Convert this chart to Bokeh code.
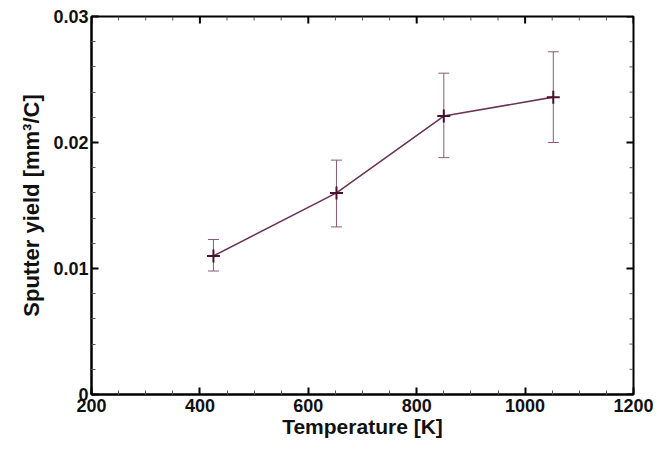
import math
from bokeh.plotting import figure
from bokeh.models import ColumnDataSource, Whisker, TeeHead, FixedTicker, Range1d
from bokeh.embed import file_html
from bokeh.resources import INLINE

temperature = [425, 652, 850, 1052]
sputter_yield = [0.0110, 0.0160, 0.0221, 0.0236]
yield_upper = [0.0123, 0.0186, 0.0255, 0.0272]
yield_lower = [0.0098, 0.0133, 0.0188, 0.0200]

x_major = [200, 400, 600, 800, 1000, 1200]
x_minor = [v for v in range(200, 1201, 50) if v not in x_major]
y_major = [0.0, 0.01, 0.02, 0.03]
y_minor = [0.002, 0.004, 0.006, 0.008, 0.012, 0.014, 0.016, 0.018,
           0.022, 0.024, 0.026, 0.028]

X0, X1 = 200, 1200
Y0, Y1 = 0.0, 0.03

src = ColumnDataSource(dict(x=temperature, y=sputter_yield,
                            up=yield_upper, lo=yield_lower))

p = figure(frame_width=542, frame_height=378, output_backend="svg",
           toolbar_location=None,
           x_range=Range1d(X0, X1), y_range=Range1d(Y0, Y1),
           min_border_left=91, min_border_top=16, min_border_right=20,
           min_border_bottom=40)
p.xgrid.visible = False
p.ygrid.visible = False
p.outline_line_color = "black"
p.outline_line_width = 2
p.background_fill_color = "white"
p.border_fill_color = "white"

xt = FixedTicker(ticks=x_major, minor_ticks=x_minor)
yt = FixedTicker(ticks=y_major, minor_ticks=y_minor)

FONT = "Liberation Sans"

def style(ax):
    ax.axis_line_color = "black"
    ax.axis_line_width = 2
    ax.major_tick_in = 7
    ax.major_tick_out = 0
    ax.minor_tick_in = 4
    ax.minor_tick_out = 0
    ax.major_tick_line_width = 2
    ax.minor_tick_line_width = 1
    ax.major_tick_line_color = "black"
    ax.minor_tick_line_color = "#555555"
    ax.major_label_text_font = FONT
    ax.major_label_text_font_style = "bold"
    ax.major_label_text_color = "#111111"
    ax.major_label_text_font_size = "18px"
    ax.axis_label_text_font = FONT
    ax.axis_label_text_font_style = "bold"
    ax.axis_label_text_color = "#111111"

xa = p.xaxis[0]
xa.ticker = xt
style(xa)
xa.major_label_standoff = 4
xa.axis_label = "Temperature [K]"
xa.axis_label_standoff = 0
xa.axis_label_text_font_size = "21px"

ya = p.yaxis[0]
ya.ticker = yt
style(ya)
ya.major_label_standoff = 3
ya.axis_label = "Sputter yield [mm\u00b3/C]"
ya.axis_label_standoff = 6
ya.axis_label_text_font_size = "22px"

# inward ticks on the top and right frame edges, from the tick arrays
p.ray(x=x_major, y=[Y1] * len(x_major), length=7, length_units="screen",
      angle=-math.pi / 2, line_color="black", line_width=2)
p.ray(x=x_minor, y=[Y1] * len(x_minor), length=4, length_units="screen",
      angle=-math.pi / 2, line_color="#555555", line_width=1)
p.ray(x=[X1] * len(y_major), y=y_major, length=7, length_units="screen",
      angle=math.pi, line_color="black", line_width=2)
p.ray(x=[X1] * len(y_minor), y=y_minor, length=4, length_units="screen",
      angle=math.pi, line_color="#555555", line_width=1)

err = Whisker(source=src, base="x", upper="up", lower="lo",
              line_color="#8c5a76", line_width=1,
              upper_head=TeeHead(size=11, line_color="#8c5a76", line_width=1),
              lower_head=TeeHead(size=11, line_color="#8c5a76", line_width=1))
p.add_layout(err)

p.line("x", "y", source=src, line_color="#6b3556", line_width=1.6)
p.scatter("x", "y", source=src, marker="cross", size=13,
          line_color="#4a1030", line_width=2)

open("out.html", "w").write(file_html(p, INLINE))
